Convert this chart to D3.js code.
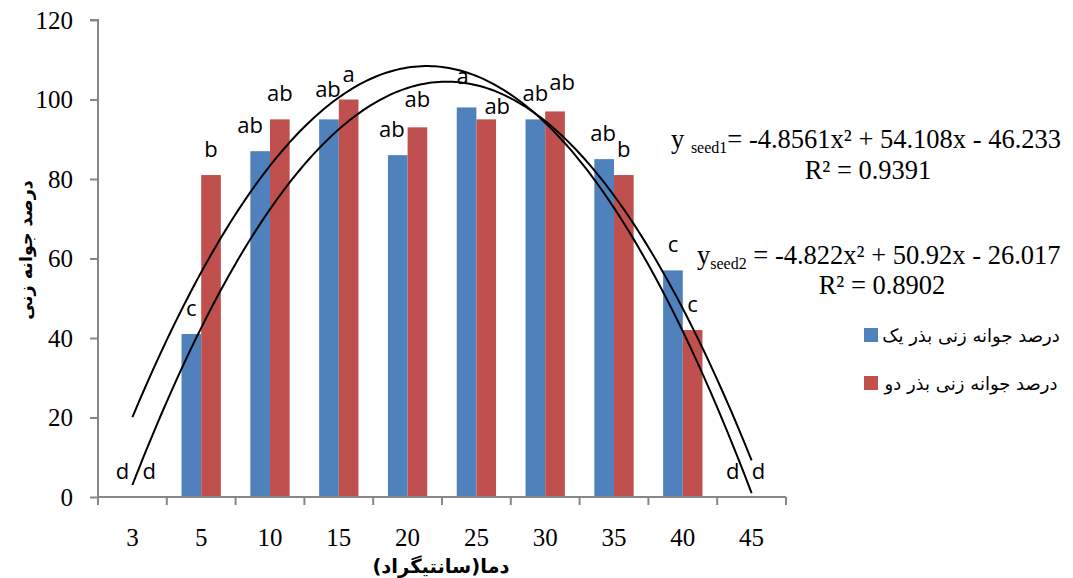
<!DOCTYPE html>
<html>
<head>
<meta charset="utf-8">
<script src="https://cdn.jsdelivr.net/npm/d3@7"></script>
<style>
  body { margin: 0; background: #fff; }
  svg { display: block; }
</style>
</head>
<body>
<svg id="chart" width="1073" height="578"></svg>
<script>
// temperatures (x categories)
const temps = ["3", "5", "10", "15", "20", "25", "30", "35", "40", "45"];
// germination % for each seed
const seed1 = [0, 41, 87, 95, 86, 98, 95, 85, 57, 0];
const seed2 = [0, 81, 95, 100, 93, 95, 97, 81, 42, 0];
// mean comparison letters
const letters1 = ["d", "c", "ab", "ab", "ab", "a", "ab", "ab", "c", "d"];
const letters2 = ["d", "b", "ab", "a", "ab", "ab", "ab", "b", "c", "d"];
// trendline coefficients [a, b, c] for a*x^2 + b*x + c
const fit1 = [-4.8561, 54.108, -46.233];
const fit2 = [-4.822, 50.92, -26.017];
const yTicks = [0, 20, 40, 60, 80, 100, 120];
const seriesNames = ["درصد جوانه زنی بذر یک", "درصد جوانه زنی بذر دو"];
const colors = ["#4f81bd", "#c0504d"];

// hand nudges of the letter labels (as placed in the original)
const nudge1 = [[0, 0], [0, 0], [-10, 0], [-1, -4], [-6, 0], [-4, -5], [0, 0], [-1, 0], [0, 0], [-9, 0]];
const nudge2 = [[7, 0], [0, 0], [0, 0], [0, 0], [0, -2], [11, 13], [7, -3], [0, 0], [0, 0], [-3, 0]];

const svg = d3.select("#chart");
const mLeft = 98, mRight = 786, mTop = 20, mBottom = 497;

const x = d3.scaleBand().domain(temps).range([mLeft, mRight]).paddingInner(0).paddingOuter(0);
const barW = x.bandwidth() / 3.5;
const y = d3.scaleLinear().domain([0, 120]).range([mBottom, mTop]);

// bars
const series = [seed1, seed2];
series.forEach((vals, s) => {
  svg.append("g").selectAll("rect")
    .data(vals)
    .join("rect")
    .attr("x", (d, i) => x(temps[i]) + x.bandwidth() / 2 - barW + s * barW)
    .attr("y", d => y(d))
    .attr("width", barW)
    .attr("height", d => mBottom - y(d))
    .attr("fill", colors[s]);
});

// axes
const axisColor = "#878787";
const yAxis = svg.append("g").attr("transform", `translate(${mLeft},0)`)
  .call(d3.axisLeft(y).tickValues(yTicks).tickSize(8).tickPadding(17));
const xAxis = svg.append("g").attr("transform", `translate(0,${mBottom})`)
  .call(d3.axisBottom(x).tickSize(0).tickPadding(31));
// category boundary ticks
const bounds = temps.map(t => x(t)).concat([mRight]);
xAxis.selectAll(".bound").data(bounds).join("line")
  .attr("class", "bound")
  .attr("x1", d => d).attr("x2", d => d)
  .attr("y1", 0).attr("y2", 8);
[yAxis, xAxis].forEach(g => {
  g.select(".domain").attr("stroke", axisColor).attr("stroke-width", 2);
  g.selectAll("line").attr("stroke", axisColor).attr("stroke-width", 2);
  g.selectAll("text")
    .attr("font-family", "'Liberation Serif', 'Times New Roman', serif")
    .attr("font-size", 25)
    .attr("fill", "#000");
});
yAxis.select(".domain").attr("d", `M-8,${mTop}H0V${mBottom + 8}`);
xAxis.select(".domain").attr("d", `M${mLeft},0H${mRight}`);

// letter labels
const letterFont = "'Open Sans', 'Liberation Sans', sans-serif";
[[letters1, nudge1], [letters2, nudge2]].forEach(([lab, nud], s) => {
  svg.append("g").selectAll("text")
    .data(lab)
    .join("text")
    .attr("x", (d, i) => x(temps[i]) + x.bandwidth() / 2 - barW / 2 + s * barW + nud[i][0])
    .attr("y", (d, i) => y(series[s][i]) - 18 + nud[i][1])
    .attr("text-anchor", "middle")
    .attr("font-family", letterFont)
    .attr("font-size", 22)
    .attr("fill", "#000")
    .text(d => d);
});

// quadratic trendlines
const xc = d3.scaleLinear().domain([1, temps.length])
  .range([x(temps[0]) + x.bandwidth() / 2, x(temps[temps.length - 1]) + x.bandwidth() / 2]);
const line = d3.line().x(d => xc(d[0])).y(d => y(d[1])).curve(d3.curveLinear);
[fit1, fit2].forEach(f => {
  const pts = d3.range(1, temps.length + 0.001, 0.05)
    .map(t => [t, f[0] * t * t + f[1] * t + f[2]]);
  svg.append("path")
    .attr("d", line(pts))
    .attr("fill", "none")
    .attr("stroke", "#000")
    .attr("stroke-width", 2);
});

// equations
const serif = "'Liberation Serif', 'Times New Roman', serif";
const eq = svg.append("g").attr("font-family", serif).attr("font-size", 26.5).attr("fill", "#000");
const e1 = eq.append("text").attr("x", 671).attr("y", 148);
e1.append("tspan").text("y ");
e1.append("tspan").attr("font-size", 16).attr("dy", 5).text("seed1");
e1.append("tspan").attr("dy", -5).text("= -4.8561x² + 54.108x - 46.233");
eq.append("text").attr("x", 868).attr("y", 179).attr("text-anchor", "middle").text("R² = 0.9391");
const e2 = eq.append("text").attr("x", 697).attr("y", 264);
e2.append("tspan").text("y");
e2.append("tspan").attr("font-size", 16).attr("dy", 5).text("seed2");
e2.append("tspan").attr("dy", -5).text(" = -4.822x² + 50.92x - 26.017");
eq.append("text").attr("x", 882).attr("y", 294).attr("text-anchor", "middle").text("R² = 0.8902");

// legend
const arabic = "'DejaVu Sans', 'Noto Sans', sans-serif";
seriesNames.forEach((name, i) => {
  const ly = 335 + i * 48;
  svg.append("rect").attr("x", 864).attr("y", ly - 7).attr("width", 14).attr("height", 14).attr("fill", colors[i]);
  svg.append("text")
    .attr("x", 971).attr("y", ly + 7)
    .attr("text-anchor", "middle")
    .attr("font-family", arabic)
    .attr("font-size", 18)
    .attr("fill", "#000")
    .text(name);
});

// axis titles
svg.append("text")
  .attr("transform", "translate(26,250) rotate(-90)")
  .attr("text-anchor", "middle")
  .attr("dominant-baseline", "central")
  .attr("font-family", arabic)
  .attr("font-weight", "bold")
  .attr("font-size", 17.5)
  .text("درصد جوانه زنی");
svg.append("text")
  .attr("x", 441).attr("y", 573)
  .attr("text-anchor", "middle")
  .attr("font-family", arabic)
  .attr("font-weight", "bold")
  .attr("font-size", 19.5)
  .text("دما(سانتیگراد)");
</script>
</body>
</html>
